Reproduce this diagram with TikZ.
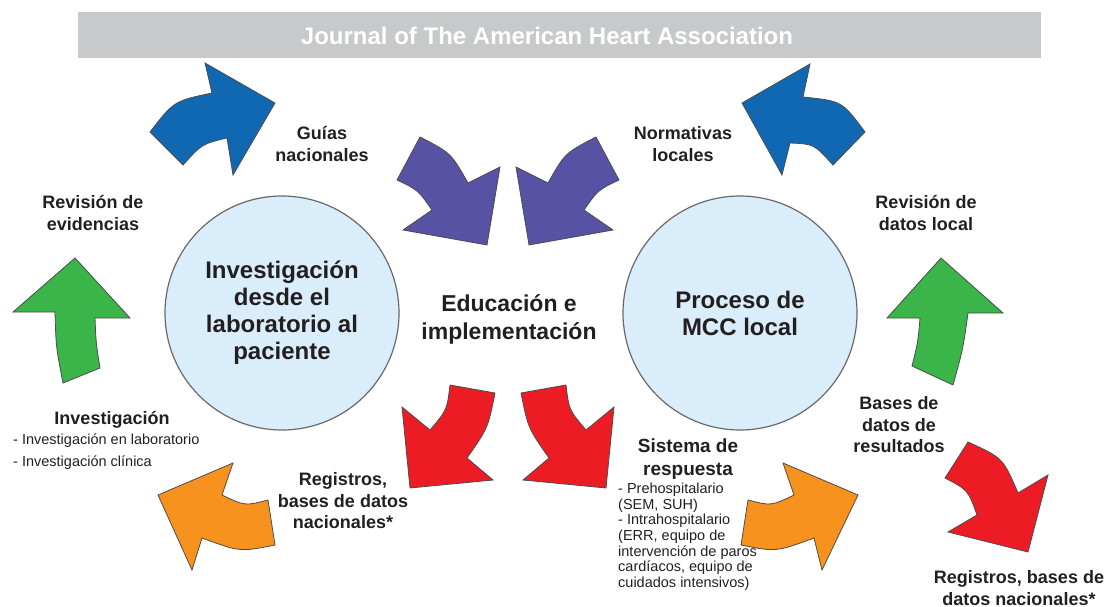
\documentclass[tikz,border=0pt]{standalone}
\usepackage{fontspec}
\setmainfont{Liberation Sans}
\definecolor{hdrgray}{RGB}{200,201,203}
\definecolor{hubfill}{RGB}{218,237,250}
\definecolor{hubline}{RGB}{105,105,105}
\definecolor{arrblue}{RGB}{17,104,178}
\definecolor{arrpurple}{RGB}{87,82,164}
\definecolor{arrgreen}{RGB}{57,181,74}
\definecolor{arrred}{RGB}{237,28,36}
\definecolor{arrorange}{RGB}{247,146,30}
\definecolor{txt}{RGB}{35,31,32}

\begin{document}
\begin{tikzpicture}[x=1pt, y=-1pt,
  blk/.style={draw=black!70, line width=0.8pt, line join=miter},
  hub/.style={circle, draw=hubline, line width=1.2pt, fill=hubfill, minimum size=234pt, inner sep=0pt, align=center, text=txt, font=\bfseries\fontsize{24}{27}\selectfont},
  lbl/.style={align=center, inner sep=0pt, text=txt, font=\bfseries\fontsize{18}{21.5}\selectfont},
  note/.style={align=left, inner sep=0pt, anchor=north west, text=txt, font=\fontsize{14.5}{15.6}\selectfont}]
\useasboundingbox (0,0) rectangle (1108,607);
\fill[hdrgray] (78,12) rectangle (1041,58);
\node (hdr) [text=white, font=\bfseries\fontsize{24}{28}\selectfont] at (547,36) {Journal of The American Heart Association};

\node (lab) [hub] at (282,313) {Investigación\\desde el\\laboratorio al\\paciente};
\node (mcc) [hub] at (740,313) {Proceso de\\MCC local};
\node (edu) [align=center, inner sep=0pt, text=txt, font=\bfseries\fontsize{23}{28}\selectfont] at (509,319) {Educación e\\implementación};

\draw[blk, fill=arrblue] (150,132) .. controls (174,101) .. (212,93) -- (205,63) -- (275,103) -- (233,175) -- (227,138) .. controls (202,144) .. (183,165) -- cycle;
\draw[blk, fill=arrblue] (865,132) .. controls (842,101) .. (803,97) -- (810,64) -- (742,103) -- (782,175) -- (790,143) .. controls (814,144) .. (833,165) -- cycle;
\draw[blk, fill=arrpurple] (420,137) -- (397,180) .. controls (418,190) .. (432,210) -- (403,230) -- (487,245) -- (500,167) -- (468,183) .. controls (451,153) .. (420,137) -- cycle;
\draw[blk, fill=arrpurple] (596,137) -- (619,180) .. controls (598,190) .. (584,210) -- (613,230) -- (529,245) -- (516,167) -- (548,183) .. controls (565,153) .. (596,137) -- cycle;
\draw[blk, fill=arrgreen] (75,258) -- (130,318) -- (95,318) .. controls (96,343) .. (100,368) -- (63,383) .. controls (56,347) .. (55,312) -- (13,312) -- cycle;
\draw[blk, fill=arrgreen] (941,258) -- (887,318) -- (920,318) .. controls (918,342) .. (912,366) -- (953,385) .. controls (963,349) .. (968,313) -- (1003,313) -- cycle;
\draw[blk, fill=arrorange] (158,495) -- (233,463) -- (222,495) .. controls (245,506) .. (268,500) -- (275,545) .. controls (240,552) .. (202,538) -- (192,570) -- cycle;
\draw[blk, fill=arrorange] (858,495) -- (783,463) -- (794,495) .. controls (771,506) .. (748,500) -- (741,545) .. controls (776,552) .. (814,538) -- (822,570) -- cycle;
\draw[blk, fill=arrred] (450,385) -- (495,393) .. controls (488,428) .. (467,458) -- (493,480) -- (410,488) -- (402,407) -- (430,430) .. controls (447,410) .. (450,385) -- cycle;
\draw[blk, fill=arrred] (566,385) -- (521,393) .. controls (528,428) .. (549,458) -- (523,480) -- (606,488) -- (614,407) -- (586,430) .. controls (569,410) .. (566,385) -- cycle;
\draw[blk, fill=arrred] (968,442) -- (945,478) .. controls (968,490) .. (977,515) -- (948,532) -- (1028,552) -- (1048,475) -- (1018,493) .. controls (1003,458) .. (968,442) -- cycle;

\node (guias) [lbl] at (322,144) {Guías\\nacionales};
\node (normas) [lbl] at (683,144) {Normativas\\locales};
\node (revev) [lbl] at (93,213) {Revisión de\\evidencias};
\node (revloc) [lbl] at (926,213) {Revisión de\\datos local};
\node (invest) [lbl] at (112,420) {Investigación};
\node (invlist) [note, font=\fontsize{14.5}{22}\selectfont] at (13,434) {- Investigación en laboratorio\\- Investigación clínica};
\node (regnac) [lbl] at (343,501) {Registros,\\bases de datos\\nacionales*};
\node (sistema) [lbl, font=\bfseries\fontsize{19}{22.5}\selectfont] at (688,459) {Sistema de\\respuesta};
\node (sislist) [note] at (618,483) {- Prehospitalario\\(SEM, SUH)\\- Intrahospitalario\\(ERR, equipo de\\intervención de paros\\cardíacos, equipo de\\cuidados intensivos)};
\node (bases) [lbl] at (899,425) {Bases de\\datos de\\resultados};
\node (regloc) [lbl] at (1019,588) {Registros, bases de\\datos nacionales*};
\end{tikzpicture}
\end{document}
